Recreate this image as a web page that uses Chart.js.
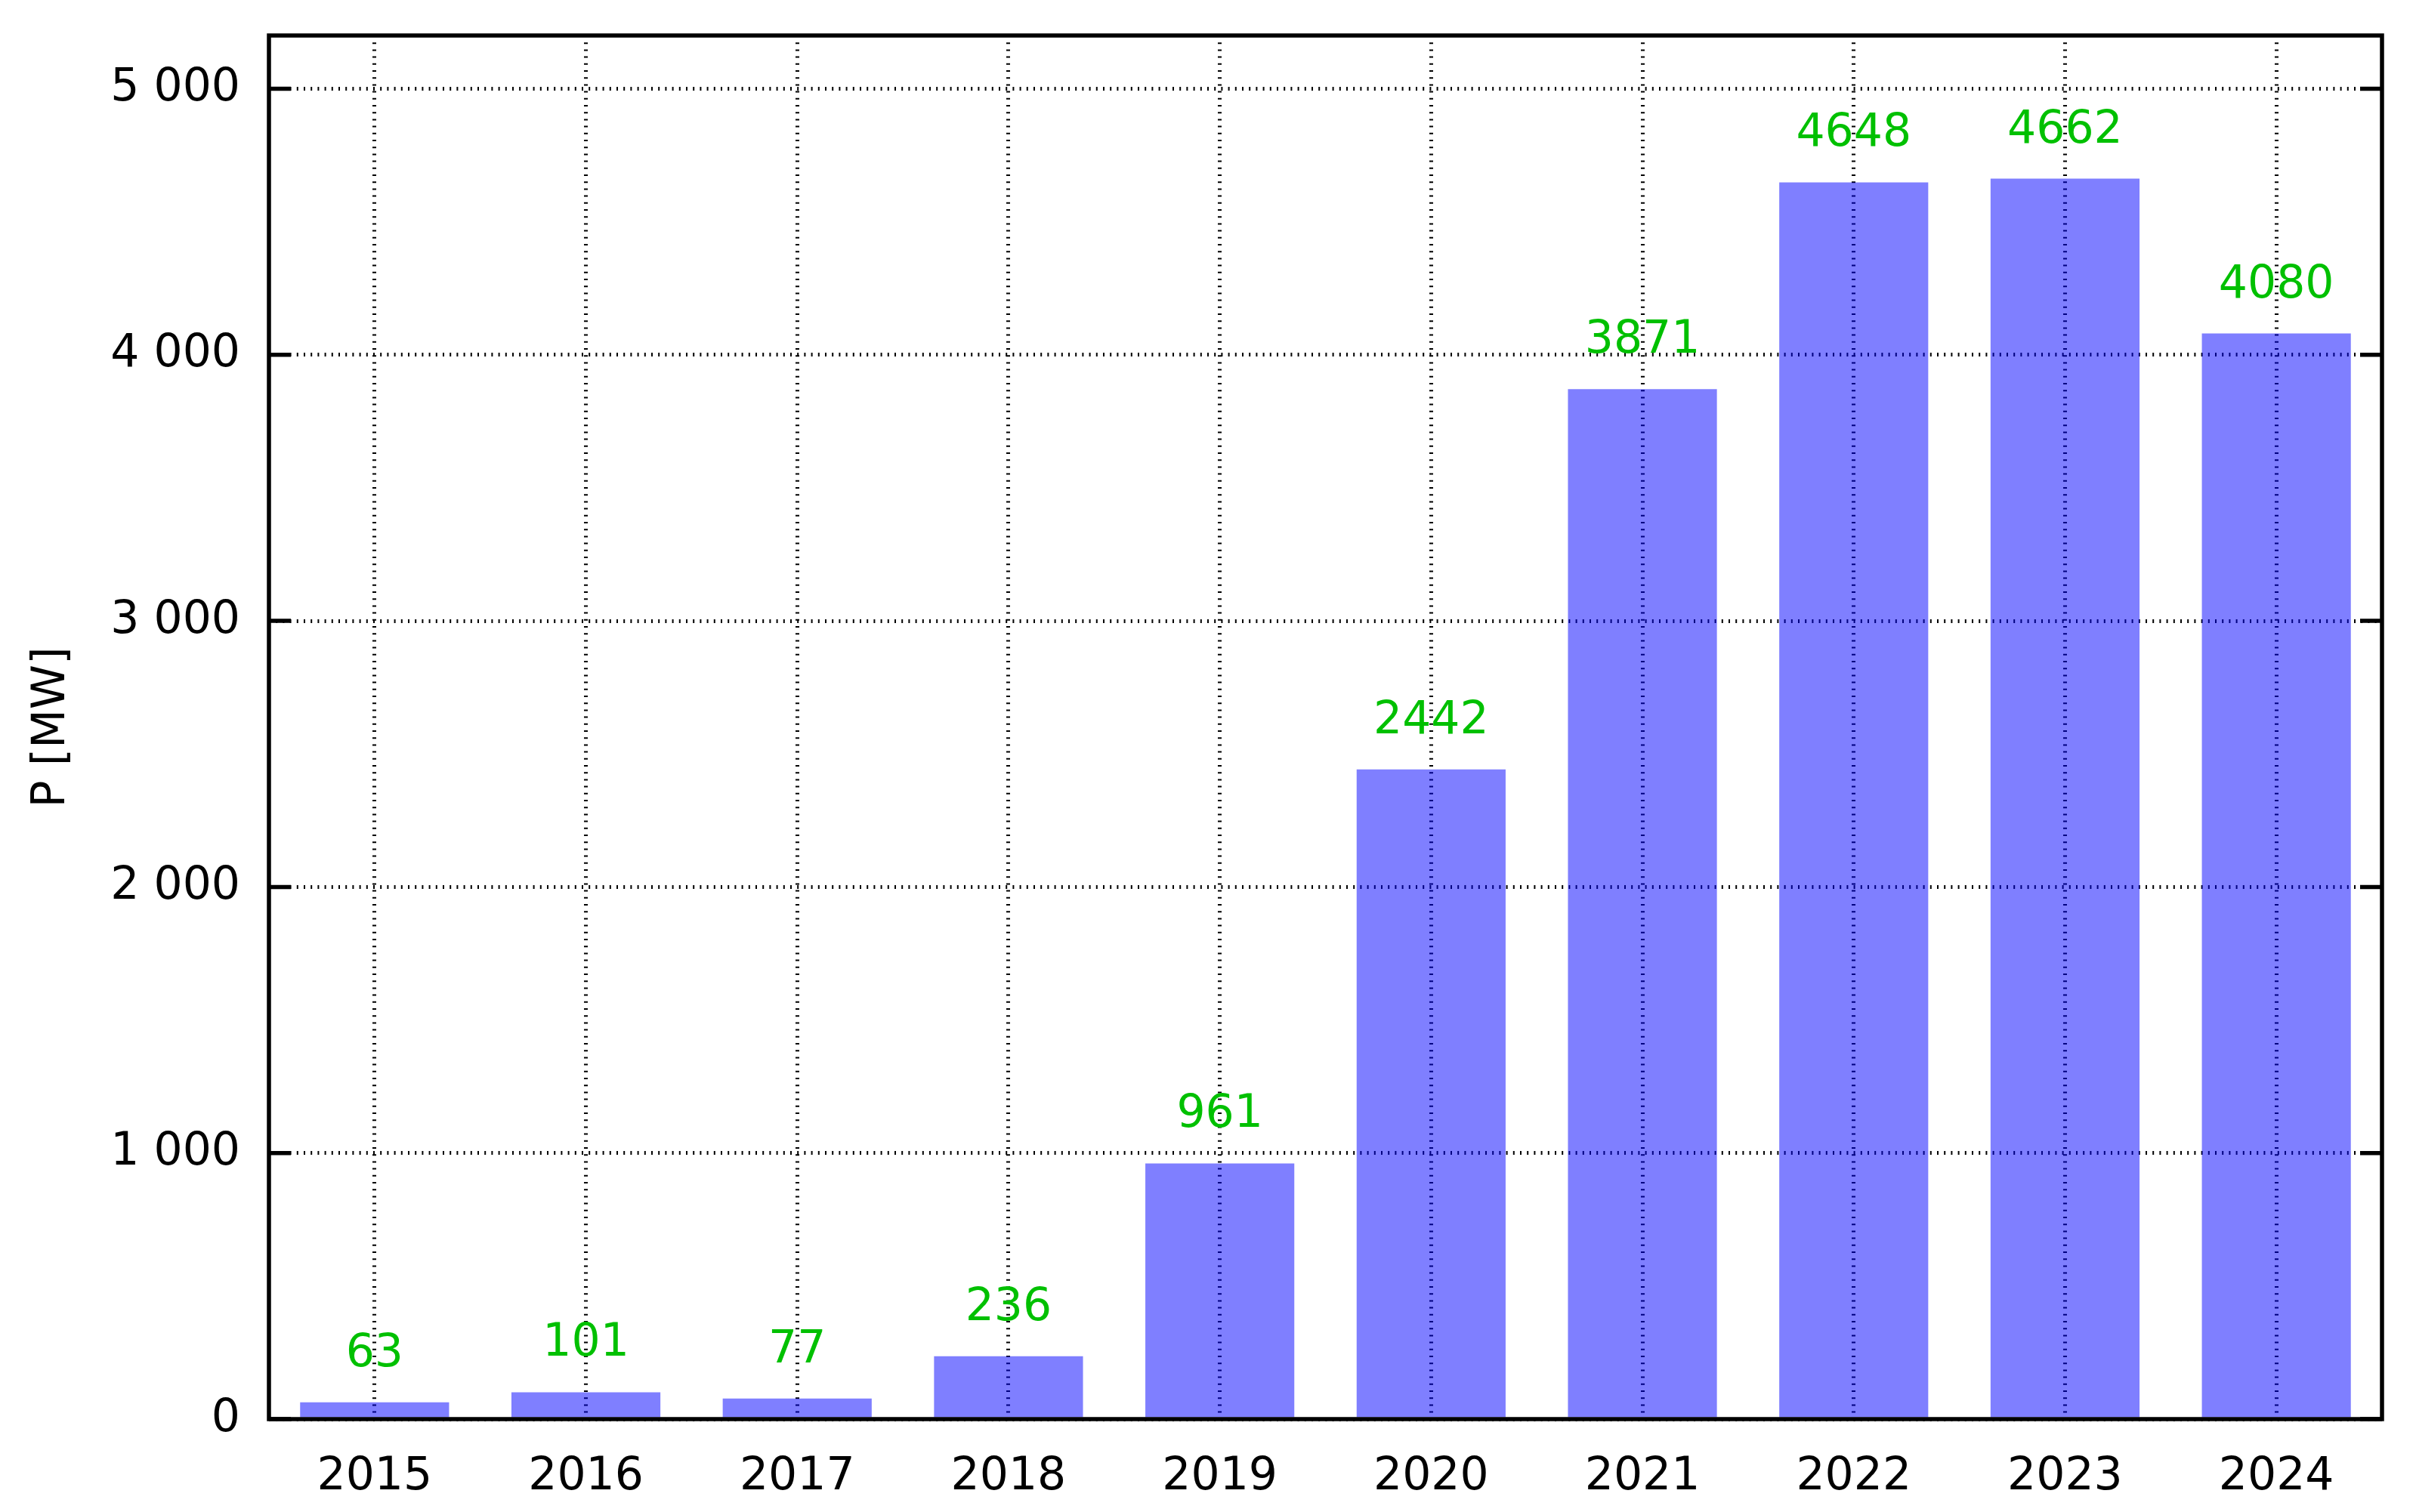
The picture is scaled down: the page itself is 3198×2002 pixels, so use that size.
<!DOCTYPE html>
<html>
<head>
<meta charset="utf-8">
<script src="https://cdn.jsdelivr.net/npm/chart.js@4.4.1/dist/chart.umd.min.js"></script>
<style>
  html, body { margin: 0; padding: 0; background: #fff; }
  canvas { display: block; }
</style>
</head>
<body>
<canvas id="powerChart" width="3198" height="2002"></canvas>
<script>
const years = ["2015", "2016", "2017", "2018", "2019", "2020", "2021", "2022", "2023", "2024"];
const powerMW = [63, 101, 77, 236, 961, 2442, 3871, 4648, 4662, 4080];
const yTicks = [0, 1000, 2000, 3000, 4000, 5000];
const yTickLabels = ["0", "1 000", "2 000", "3 000", "4 000", "5 000"];
const yTitle = "P [MW]";

Chart.defaults.font.family = "'DejaVu Sans', sans-serif";
Chart.defaults.color = "#000";

// frame around the plot plus inward ticks on both sides
const framePlugin = {
    id: 'frame',
    afterDraw(chart) {
        const { ctx, chartArea: a, scales } = chart;
        ctx.save();
        ctx.strokeStyle = "#000";
        ctx.lineWidth = 5.5;
        ctx.setLineDash([]);
        ctx.strokeRect(a.left, a.top, a.right - a.left, a.bottom - a.top);
        yTicks.forEach(v => {
            const y = scales.y.getPixelForValue(v);
            ctx.beginPath();
            ctx.moveTo(a.left, y);
            ctx.lineTo(a.left + 29, y);
            ctx.moveTo(a.right, y);
            ctx.lineTo(a.right - 29, y);
            ctx.stroke();
        });
        ctx.restore();
    }
};

// value labels above bars
const valueLabels = {
    id: 'valueLabels',
    afterDatasetsDraw(chart) {
        const { ctx } = chart;
        const meta = chart.getDatasetMeta(0);
        ctx.save();
        ctx.fillStyle = "#00c000";
        ctx.font = "60px 'DejaVu Sans'";
        ctx.textAlign = "center";
        ctx.textBaseline = "alphabetic";
        meta.data.forEach((bar, i) => {
            ctx.fillText(String(powerMW[i]), bar.x, bar.y - 48);
        });
        ctx.restore();
    }
};

const ctx = document.getElementById('powerChart').getContext('2d');

new Chart(ctx, {
    type: 'bar',
    data: {
        labels: years,
        datasets: [{
            data: powerMW,
            backgroundColor: "rgba(0, 0, 255, 0.5)",
            borderWidth: 0,
            categoryPercentage: 1.0,
            barPercentage: 0.705
        }]
    },
    options: {
        responsive: false,
        devicePixelRatio: 1,
        animation: false,
        layout: {
            padding: { top: 47, right: 45, left: 0, bottom: 0 }
        },
        plugins: {
            legend: { display: false },
            tooltip: { enabled: false }
        },
        scales: {
            x: {
                afterFit(scale) {
                    scale.height = 123;
                    scale.paddingLeft = 0;
                    scale.paddingRight = 0;
                },
                border: { display: false, dash: [2, 7.2] },
                grid: {
                    offset: false,
                    drawTicks: false,
                    color: "#000",
                    lineWidth: 5
                },
                ticks: {
                    padding: 41,
                    maxRotation: 0,
                    font: { size: 60 }
                }
            },
            y: {
                min: 0,
                max: 5200,
                afterFit(scale) {
                    scale.width = 356;
                    scale.paddingTop = 0;
                    scale.paddingBottom = 0;
                },
                afterBuildTicks(scale) {
                    scale.ticks = yTicks.map(v => ({ value: v }));
                },
                border: { display: false, dash: [2, 7.2] },
                grid: {
                    drawTicks: false,
                    color: "#000",
                    lineWidth: 5
                },
                ticks: {
                    padding: 38,
                    font: { size: 60 },
                    callback(value) {
                        const i = yTicks.indexOf(value);
                        return i >= 0 ? yTickLabels[i] : "";
                    }
                },
                title: {
                    display: true,
                    text: yTitle,
                    font: { size: 60 },
                    padding: { top: 33, bottom: 0 }
                }
            }
        }
    },
    plugins: [framePlugin, valueLabels]
});
</script>
</body>
</html>
